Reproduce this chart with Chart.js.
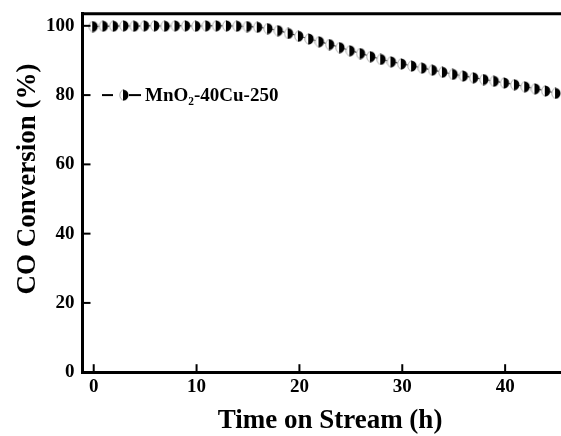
<!DOCTYPE html>
<html>
<head>
<meta charset="utf-8">
<script src="https://cdn.jsdelivr.net/npm/chart.js@4/dist/chart.umd.min.js"></script>
<style>
  html, body { margin: 0; padding: 0; background: #fff; }
  #wrap { width: 561px; height: 436px; overflow: hidden; }
  #box { width: 600px; height: 436px; }
</style>
</head>
<body>
<div id="wrap"><div id="box"><canvas id="myChart"></canvas></div></div>
<script>
const hours = [0, 1, 2, 3, 4, 5, 6, 7, 8, 9, 10, 11, 12, 13, 14, 15, 16, 17, 18, 19, 20, 21, 22, 23,
  24, 25, 26, 27, 28, 29, 30, 31, 32, 33, 34, 35, 36, 37, 38, 39, 40, 41, 42, 43, 44, 45];
const conversion = [99.8, 99.9, 99.9, 100, 99.9, 100, 100, 99.9, 100, 100, 99.9, 100, 100, 100, 99.9, 99.8,
  99.6, 99.2, 98.6, 97.8, 97.0, 96.2, 95.4, 94.6, 93.7, 92.8, 92.0, 91.1, 90.3, 89.6, 89.0,
  88.4, 87.8, 87.2, 86.6, 86.0, 85.5, 85.0, 84.5, 84.0, 83.5, 83.0, 82.4, 81.8, 81.2, 80.5];
const seriesName = "MnO\u2082-40Cu-250";
const xTitle = "Time on Stream (h)";
const yTitle = "CO Conversion (%)";
const xTicks = [0, 10, 20, 30, 40];
const yTicks = [0, 20, 40, 60, 80, 100];

const serif = "'Liberation Serif', 'Times New Roman', serif";

// half-filled circle marker
function halfDot() {
  const c = document.createElement("canvas");
  c.width = 11; c.height = 12;
  const g = c.getContext("2d");
  g.fillStyle = "#fff";
  g.beginPath(); g.ellipse(5, 6, 4.5, 5.5, 0, 0, Math.PI * 2); g.fill();
  g.strokeStyle = "#999"; g.lineWidth = 0.8;
  g.beginPath(); g.ellipse(5, 6, 4.2, 5.2, 0, Math.PI / 2, Math.PI * 1.5); g.stroke();
  g.fillStyle = "#000";
  g.beginPath(); g.moveTo(4, 0.5); g.ellipse(4, 6, 5.5, 5.5, 0, -Math.PI / 2, Math.PI / 2); g.closePath(); g.fill();
  return c;
}
const marker = halfDot();

const frame = {
  id: "frame",
  afterDraw(chart) {
    const ctx = chart.ctx;
    const a = chart.chartArea;
    const xs = chart.scales.x, ys = chart.scales.y;
    ctx.save();
    ctx.strokeStyle = "#000";
    ctx.lineWidth = 3;
    ctx.beginPath();
    ctx.moveTo(a.left - 1.5, a.top); ctx.lineTo(a.right + 10, a.top);
    ctx.stroke();
    ctx.lineWidth = 2;
    xTicks.forEach(v => {
      const px = xs.getPixelForValue(v);
      ctx.beginPath(); ctx.moveTo(px, a.bottom); ctx.lineTo(px, a.bottom - 8); ctx.stroke();
    });
    yTicks.forEach(v => {
      const py = ys.getPixelForValue(v);
      ctx.beginPath(); ctx.moveTo(a.left, py); ctx.lineTo(a.left + 8, py); ctx.stroke();
    });
    // legend
    const ly = ys.getPixelForValue(80);
    ctx.lineWidth = 2;
    ctx.beginPath(); ctx.moveTo(102, ly); ctx.lineTo(113, ly); ctx.stroke();
    ctx.beginPath(); ctx.moveTo(129, ly); ctx.lineTo(141, ly); ctx.stroke();
    ctx.drawImage(marker, 119, ly - 6);
    ctx.fillStyle = "#000";
    ctx.font = "bold 19px " + serif;
    ctx.textBaseline = "middle";
    ctx.fillText(chart.data.datasets[0].label, 145, ly + 1);
    // axis titles
    ctx.font = "bold 27px " + serif;
    ctx.textAlign = "center";
    ctx.fillText(xTitle, 330, 421);
    ctx.translate(28, 179);
    ctx.rotate(-Math.PI / 2);
    ctx.fillText(yTitle, 0, 0);
    ctx.restore();
  }
};

new Chart(document.getElementById("myChart"), {
  type: "line",
  data: {
    labels: hours,
    datasets: [{
      label: seriesName,
      data: hours.map((h, i) => ({ x: h, y: conversion[i] })),
      borderColor: "#000",
      borderWidth: 1,
      pointStyle: marker,
      pointRadius: 5,
      tension: 0,
      clip: false
    }]
  },
  options: {
    responsive: true,
    maintainAspectRatio: false,
    animation: false,
    layout: { padding: { top: 13, right: 0, left: 38, bottom: 35 } },
    plugins: { legend: { display: false }, tooltip: { enabled: false } },
    scales: {
      x: {
        type: "linear",
        min: -1.09,
        max: 48.64,
        afterBuildTicks: s => { s.ticks = xTicks.map(v => ({ value: v })); },
        grid: { display: false, drawTicks: false },
        border: { display: true, color: "#000", width: 3 },
        ticks: { color: "#000", padding: 3, font: { family: serif, size: 19, weight: "bold" } }
      },
      y: {
        min: 0,
        max: 103.5,
        afterBuildTicks: s => { s.ticks = yTicks.map(v => ({ value: v })); },
        grid: { display: false, drawTicks: false },
        border: { display: true, color: "#000", width: 3 },
        ticks: { color: "#000", padding: 8, font: { family: serif, size: 19, weight: "bold", lineHeight: 0.6 } }
      }
    }
  },
  plugins: [frame]
});
</script>
</body>
</html>
